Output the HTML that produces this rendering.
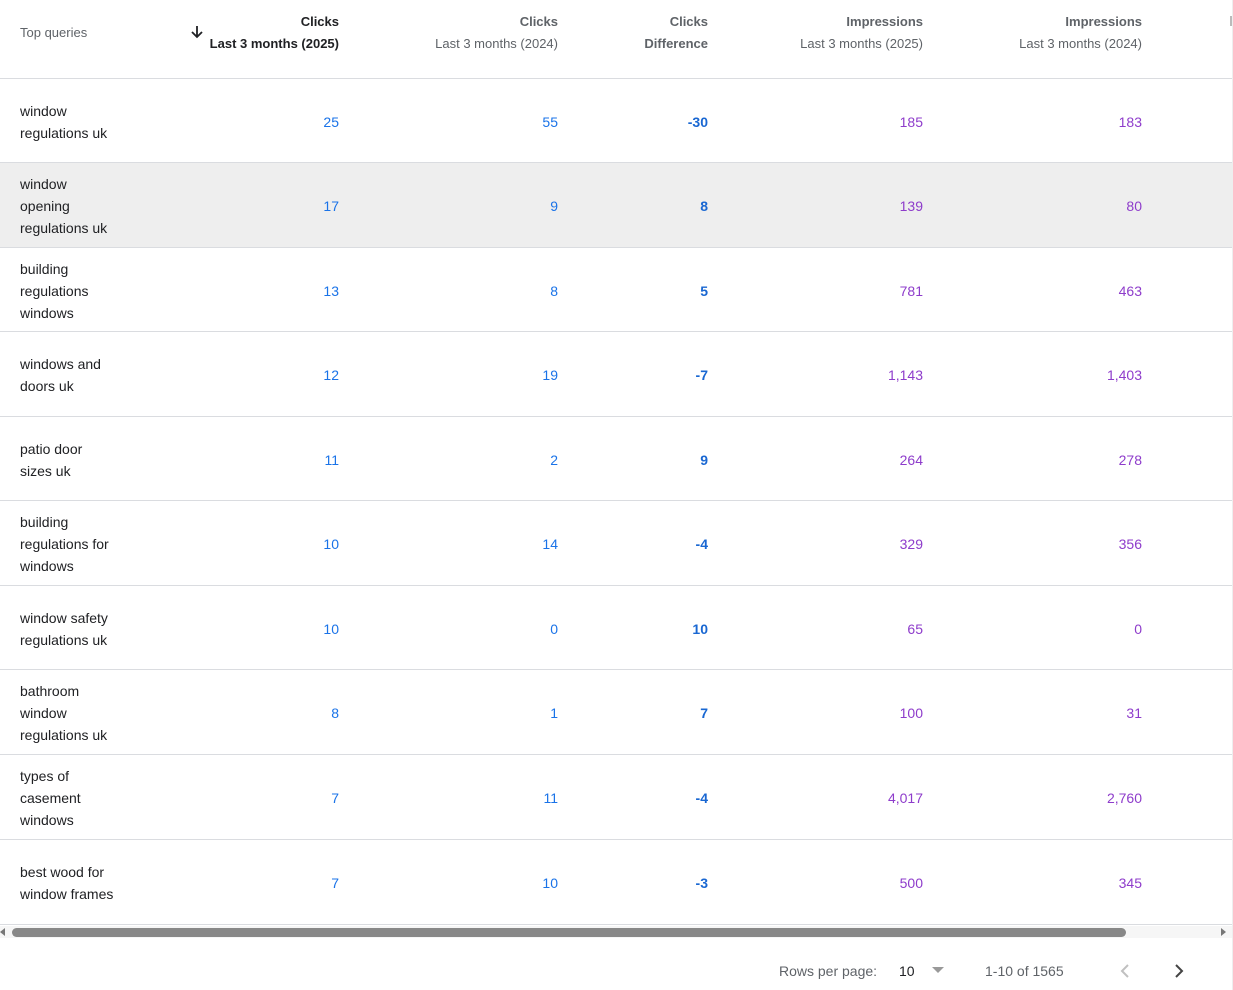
<!DOCTYPE html>
<html><head><meta charset="utf-8"><style>
*{margin:0;padding:0;box-sizing:border-box}
body{width:1233px;height:990px;background:#fff;font-family:"Liberation Sans",Arial,sans-serif;position:relative;overflow:hidden;color:#202124}
.h{position:absolute;font-size:13px;color:#5f6368;line-height:22px;text-align:right;font-weight:bold}
.h.dk{color:#202124}
.row{position:absolute;left:0;width:1232px;border-bottom:1px solid #dadce0;display:flex;align-items:center}
.q{position:absolute;left:20px;top:calc(50% + 1px);transform:translateY(-50%);font-size:14px;line-height:22px;color:#202124;width:150px}
.c{position:absolute;top:calc(50% + 1px);transform:translateY(-50%);font-size:14px;text-align:right;width:120px}
.b{color:#1a73e8}.p{color:#8e3ccb}.d{color:#1967d2;font-weight:bold}
</style></head><body>
<div style="position:absolute;left:0;top:78px;width:1232px;border-top:1px solid #dadce0"></div>
<div style="position:absolute;left:1232px;top:0;height:990px;border-left:1px solid #eee"></div>
<div class="h" style="left:20px;top:22px;text-align:left;font-weight:normal;color:#5f6368">Top queries</div>
<svg style="position:absolute;left:190px;top:25px" width="14" height="14" viewBox="0 0 14 14"><path d="M7 1V12M2 7L7 12L12 7" stroke="#202124" stroke-width="1.8" fill="none"/></svg>
<div class="h dk" style="right:894px;top:11px">Clicks<br>Last 3 months (2025)</div>
<div class="h" style="right:675px;top:11px">Clicks<br><span style="font-weight:normal">Last 3 months (2024)</span></div>
<div class="h" style="right:525px;top:11px">Clicks<br>Difference</div>
<div class="h" style="right:310px;top:11px">Impressions<br><span style="font-weight:normal">Last 3 months (2025)</span></div>
<div class="h" style="right:91px;top:11px">Impressions<br><span style="font-weight:normal">Last 3 months (2024)</span></div>
<div style="position:absolute;left:1230px;top:16px;width:2px;height:10px;background:#bbb"></div>
<div id="rows"></div>
<script>
var d=[["window<br>regulations uk",25,55,-30,"185","183"],
["window<br>opening<br>regulations uk",17,9,8,"139","80"],
["building<br>regulations<br>windows",13,8,5,"781","463"],
["windows and<br>doors uk",12,19,-7,"1,143","1,403"],
["patio door<br>sizes uk",11,2,9,"264","278"],
["building<br>regulations for<br>windows",10,14,-4,"329","356"],
["window safety<br>regulations uk",10,0,10,"65","0"],
["bathroom<br>window<br>regulations uk",8,1,7,"100","31"],
["types of<br>casement<br>windows",7,11,-4,"4,017","2,760"],
["best wood for<br>window frames",7,10,-3,"500","345"]];
var tops=[79,163,248,332,417,501,586,670,755,840,925],h="";
d.forEach(function(r,i){var t=tops[i],ht=tops[i+1]-t;
h+='<div class="row" style="top:'+t+'px;height:'+ht+'px;'+(i==1?'background:#eeeeee':'')+'">'+
'<div class="q">'+r[0]+'</div>'+
'<div class="c b" style="left:219px">'+r[1]+'</div>'+
'<div class="c b" style="left:438px">'+r[2]+'</div>'+
'<div class="c d" style="left:588px">'+r[3]+'</div>'+
'<div class="c p" style="left:803px">'+r[4]+'</div>'+
'<div class="c p" style="left:1022px">'+r[5]+'</div></div>';});
document.getElementById('rows').innerHTML=h;
</script>
<div style="position:absolute;left:0;top:926px;width:1232px;height:12px;background:#f6f6f6"></div>
<div style="position:absolute;left:0;top:928px;width:0;height:0;border-top:4px solid transparent;border-bottom:4px solid transparent;border-right:5px solid #777"></div>
<div style="position:absolute;left:12px;top:928px;width:1114px;height:9px;background:#888;border-radius:5px"></div>
<div style="position:absolute;left:1221px;top:928px;width:0;height:0;border-top:4px solid transparent;border-bottom:4px solid transparent;border-left:5px solid #777"></div>
<div style="position:absolute;left:779px;top:963px;font-size:14px;color:#5f6368">Rows per page:</div>
<div style="position:absolute;left:899px;top:963px;font-size:14px;color:#202124">10</div>
<div style="position:absolute;left:932px;top:967px;width:0;height:0;border-left:6px solid transparent;border-right:6px solid transparent;border-top:6px solid #999"></div>
<div style="position:absolute;left:985px;top:963px;font-size:14px;color:#5f6368">1-10 of 1565</div>
<svg style="position:absolute;left:1119px;top:963px" width="12" height="16"><path d="M9 2L3 8L9 14" stroke="#c0c0c0" stroke-width="2" fill="none"/></svg>
<svg style="position:absolute;left:1173px;top:963px" width="12" height="16"><path d="M3 2L9 8L3 14" stroke="#444" stroke-width="2" fill="none"/></svg>
</body></html>
